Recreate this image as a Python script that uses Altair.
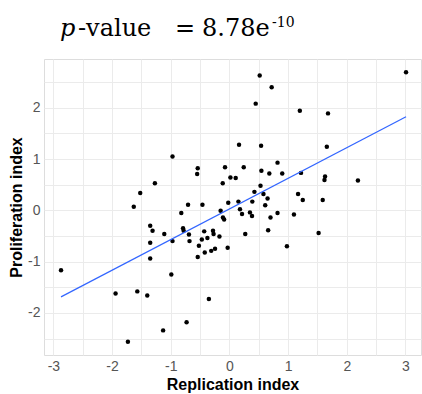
import altair as alt
import pandas as pd

# Replication index (x) and proliferation index (y) per sample
replication = [
    3.01, 0.516, 0.72, 0.448, 1.20, 1.68, 0.164, 0.54, 1.66, -0.97,
    -0.54, -0.55, -0.075, 0.244, 0.82, 0.545, 0.68, 0.90, 1.22, 1.63,
    1.62, 2.19, -1.27, -0.114, 0.017, 0.107, 0.53, -1.52, 0.426, 0.58,
    1.17, 0.65, 1.25, 1.59, 0.39, 0.61, -0.705, -0.46, -0.02, 0.153,
    -1.63, 0.18, -0.15, -0.82, 0.215, 0.35, 0.385, 0.70, 0.82, 1.10,
    -0.11, -0.09, -1.35, -1.31, -1.11, -0.79, -0.78, -0.69, -0.68, -0.97,
    -0.43, -0.47, -0.375, -0.28, -0.27, -0.17, 0.27, 0.66, 1.52, -1.35,
    -0.52, -0.03, -0.31, -0.245, -0.42, -0.54, -1.35, 0.98, -2.87, -0.99,
    -1.94, -1.57, -1.40, -0.35, -0.73, -1.13, -1.73,
]
proliferation = [
    2.69, 2.63, 2.40, 2.08, 1.94, 1.89, 1.28, 1.26, 1.24, 1.05,
    0.82, 0.71, 0.84, 0.84, 0.93, 0.77, 0.72, 0.72, 0.73, 0.66,
    0.59, 0.58, 0.53, 0.53, 0.64, 0.63, 0.48, 0.34, 0.36, 0.32,
    0.32, 0.23, 0.20, 0.20, 0.17, 0.10, 0.11, 0.11, 0.15, 0.17,
    0.07, 0.02, -0.01, -0.05, -0.07, -0.04, -0.11, -0.14, -0.05, -0.08,
    -0.14, -0.18, -0.30, -0.40, -0.46, -0.35, -0.40, -0.47, -0.60, -0.60,
    -0.41, -0.57, -0.54, -0.40, -0.46, -0.51, -0.46, -0.39, -0.44, -0.63,
    -0.69, -0.73, -0.79, -0.75, -0.82, -0.91, -0.94, -0.70, -1.17, -1.25,
    -1.62, -1.58, -1.66, -1.73, -2.18, -2.34, -2.56,
]

# Grid positions (major + minor) and the integer tick labels
x_grid = [-3, -2.5, -2, -1.5, -1, -0.5, 0, 0.5, 1, 1.5, 2, 2.5, 3]
y_grid = [-2.5, -2, -1.5, -1, -0.5, 0, 0.5, 1, 1.5, 2, 2.5]
x_domain = [-3.16, 3.265]
y_domain = [-2.82, 2.95]

df = pd.DataFrame({"replication": replication, "proliferation": proliferation})

label_expr = "datum.value % 1 == 0 ? toString(datum.value) : ''"

x_enc = alt.X(
    "replication:Q",
    scale=alt.Scale(domain=x_domain, nice=False, zero=False),
    axis=alt.Axis(values=x_grid, labelExpr=label_expr, title="Replication index",
                  labelPadding=4, titlePadding=3, labelOverlap=False),
)
y_enc = alt.Y(
    "proliferation:Q",
    scale=alt.Scale(domain=y_domain, nice=False, zero=False),
    axis=alt.Axis(values=y_grid, labelExpr=label_expr, title="Proliferation index",
                  labelPadding=4, titlePadding=3, labelOverlap=False),
)

points = alt.Chart(df).mark_circle(size=20, color="black", opacity=1).encode(x=x_enc, y=y_enc)

fit = (
    alt.Chart(df)
    .transform_regression("replication", "proliferation")
    .mark_line(color="#3366FF", strokeWidth=1.2)
    .encode(x=x_enc, y=y_enc)
)

one = alt.Data(values=[{}])
serif = "DejaVu Serif"


def label(text, x, y, size, style="normal"):
    return alt.Chart(one).mark_text(
        text=text, font=serif, fontSize=size, fontStyle=style,
        align="left", baseline="alphabetic", color="black",
    ).encode(x=alt.value(x), y=alt.value(y))


title = (
    label("p", 16, -23, 24, "italic")
    + label("-value", 34, -23, 24)
    + label("=", 131, -23, 24)
    + label("8.78e", 158, -23, 24)
    + label("-10", 228, -32, 14)
)

chart = (
    alt.layer(points, fit, title)
    .properties(
        width=377,
        height=296,
        autosize=alt.AutoSizeParams(type="none"),
        padding={"left": 44, "top": 59, "right": 1, "bottom": 39},
        background="white",
    )
    .configure_view(stroke="#DDDDDD", strokeWidth=1)
    .configure_axis(
        domain=False,
        ticks=False,
        tickSize=0,
        grid=True,
        gridColor="#EBEBEB",
        gridWidth=1,
        labelFont="Liberation Sans",
        labelFontSize=14,
        labelColor="#555555",
        titleFont="Liberation Sans",
        titleFontSize=16,
        titleFontWeight="bold",
        titleColor="black",
    )
)

chart.save("out.html", embed_options={"renderer": "svg", "actions": False})
